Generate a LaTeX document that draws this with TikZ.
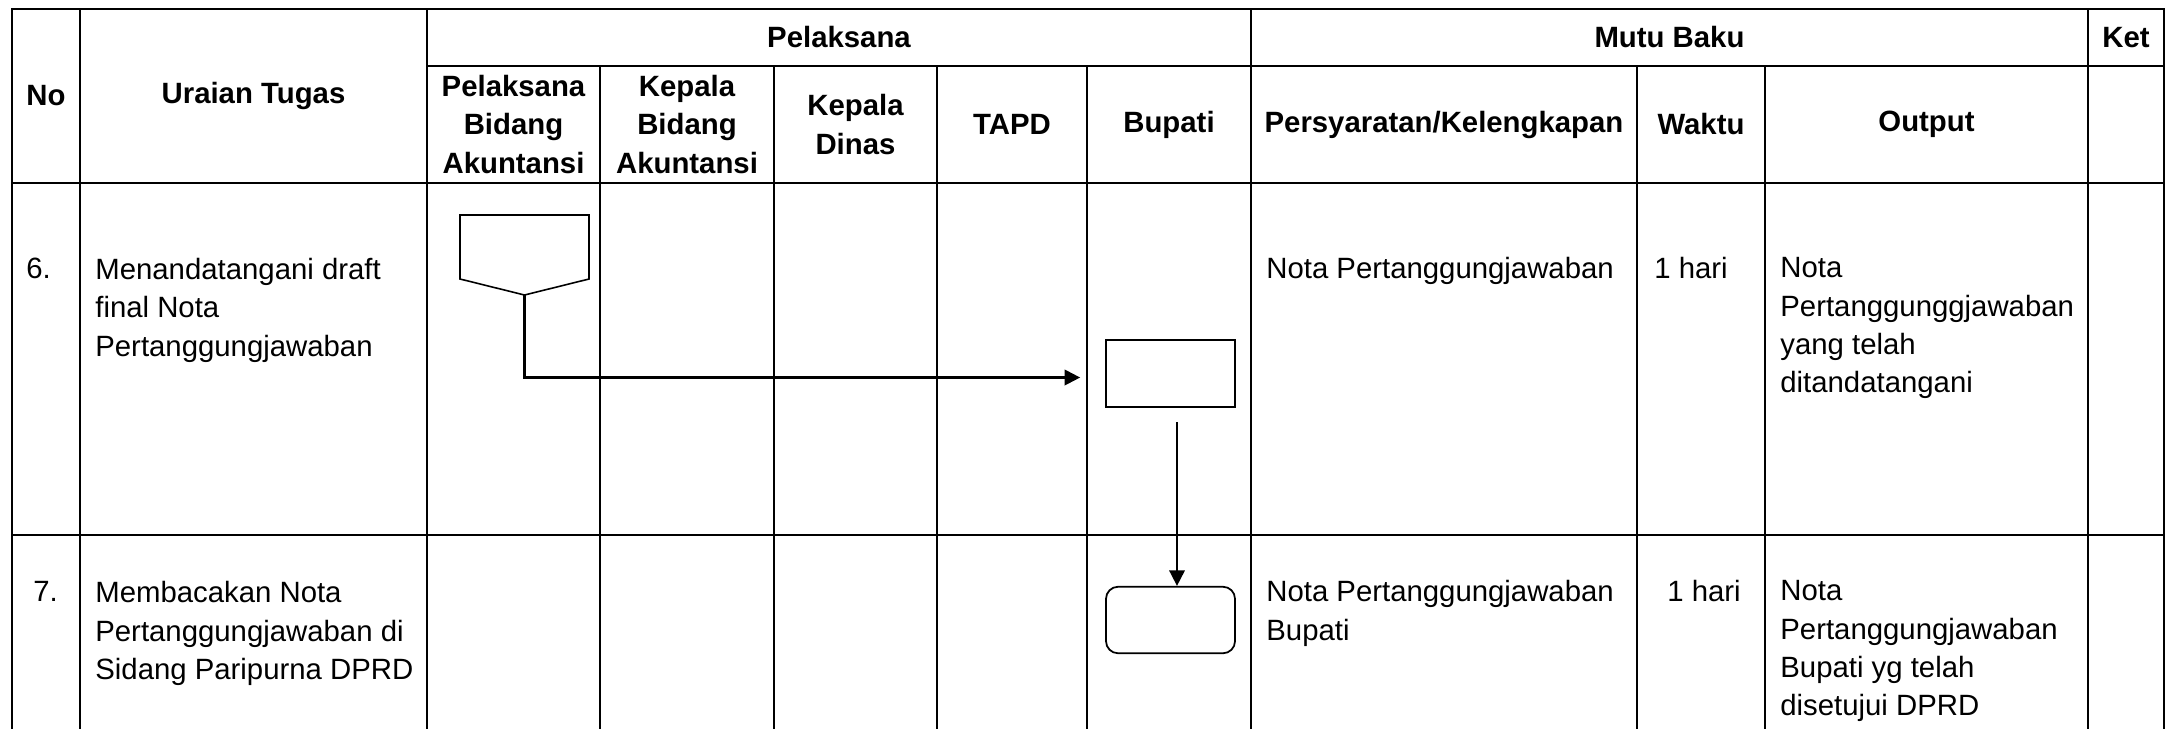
\documentclass[tikz,border=0pt]{standalone}
\usepackage{fontspec}
\setmainfont{Liberation Sans}
\usetikzlibrary{arrows.meta}
\begin{document}
\begin{tikzpicture}[x=0.02cm,y=-0.02cm,
  garis/.style={line width=1.3pt,line cap=rect},
  garistebal/.style={line width=1.55pt,line cap=rect},
  judul/.style={font=\bfseries\fontsize{16.7}{21.9}\selectfont,align=center,inner sep=0pt},
  isi/.style={font=\fontsize{16.7}{21.9}\selectfont,align=left,anchor=north west,inner sep=0pt},
  kotak/.style={draw,line width=1pt,minimum width=2.58cm,minimum height=1.33cm,inner sep=0pt},
  alur/.style={line width=1pt,-{Triangle[length=0.31cm,width=0.31cm]}}]
\useasboundingbox(0,0)rectangle(2179,728);
%tabel
\draw[garistebal](12,9)--(2164,9)(427,66)--(2164,66)(12,183)--(2164,183)(12,535)--(2164,535);
\foreach \x in {12,80,427,1251,2088,2164} \draw[garis](\x,9)--(\x,728);
\foreach \x in {600,774,937,1087,1637,1765} \draw[garis](\x,66)--(\x,728);
%judul
\node[judul](no)at(46,96){No};
\node[judul](uraian)at(253.5,96){Uraian Tugas};
\node[judul](pelaksana)at(839,37.5){Pelaksana};
\node[judul](mutu)at(1669.5,37.5){Mutu Baku};
\node[judul](ket)at(2126,37.5){Ket};
\node[judul](pba)at(513.5,124.5){Pelaksana\\Bidang\\Akuntansi};
\node[judul](kba)at(687,124.5){Kepala\\Bidang\\Akuntansi};
\node[judul](kd)at(855.5,124.5){Kepala\\Dinas};
\node[judul](tapd)at(1012,124.5){TAPD};
\node[judul](bupati)at(1169,124.5){Bupati};
\node[judul](syarat)at(1444,124.5){Persyaratan/Kelengkapan};
\node[judul](waktu)at(1701,124.5){Waktu};
\node[judul](output)at(1926.5,124.5){Output};
%isi baris 6
\node[isi](n6)at(26,258){6.};
\node[isi](t6)at(95,257.5){Menandatangani draft\\final Nota\\Pertanggungjawaban};
\node[isi](s6)at(1266,257){Nota Pertanggungjawaban};
\node[isi](w6)at(1654,257){1 hari};
\node[isi](o6)at(1780,257){Nota\\Pertanggunggjawaban\\yang telah\\ditandatangani};
%isi baris 7
\node[isi](n7)at(33,581){7.};
\node[isi](t7)at(95,581){Membacakan Nota\\Pertanggungjawaban di\\Sidang Paripurna DPRD};
\node[isi](s7)at(1266,580){Nota Pertanggungjawaban\\Bupati};
\node[isi](w7)at(1667,580){1 hari};
\node[isi](o7)at(1780,580){Nota\\Pertanggungjawaban\\Bupati yg telah\\disetujui DPRD};
%bagan
\draw[line width=0.9pt](460,215)--(589,215)--(589,279)--(524.5,295)--(460,279)--cycle;
\coordinate(konektor)at(524.5,295);
\node[kotak](proses)at(1170.5,373.5){};
\node[kotak,rounded corners=0.24cm](akhir)at(1170.5,620){};
\draw[alur,line width=1.2pt,shorten >=0.5cm](konektor)|-([yshift=-0.08cm]proses.west);
\draw[alur,shorten <=0.29cm]([xshift=0.13cm]proses.south)--([xshift=0.13cm]akhir.north);
\end{tikzpicture}
\end{document}
